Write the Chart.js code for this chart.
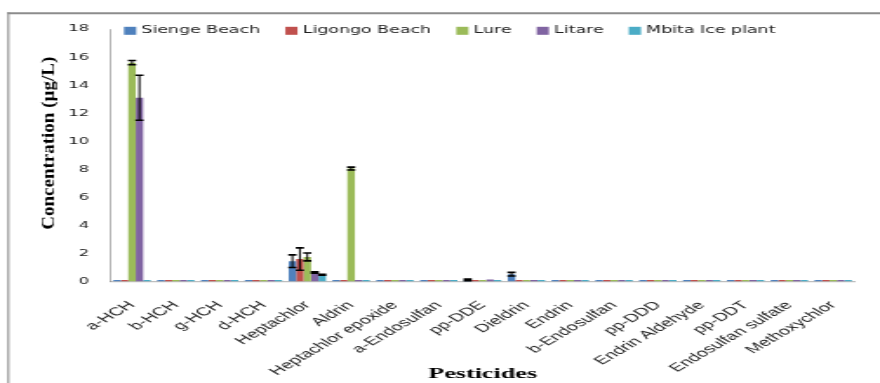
<!DOCTYPE html>
<html>
<head>
<meta charset="utf-8">
<script src="https://cdn.jsdelivr.net/npm/chart.js@4.4.1/dist/chart.umd.min.js"></script>
<style>
  html, body { margin: 0; padding: 0; background: #fff; overflow: hidden; }
  #pesticideChart { display: block; }
</style>
</head>
<body>
<!-- the chart is drawn narrow and shown wide -->
<canvas id="pesticideChart" width="506" height="383" style="width: 880px; height: 383px;"></canvas>
<script>
// Pesticide concentrations (µg/L) per landing site
const pesticides = ['a-HCH', 'b-HCH', 'g-HCH', 'd-HCH', 'Heptachlor', 'Aldrin', 'Heptachlor epoxide',
    'a-Endosulfan', 'pp-DDE', 'Dieldrin', 'Endrin', 'b-Endosulfan', 'pp-DDD', 'Endrin Aldehyde',
    'pp-DDT', 'Endosulfan sulfate', 'Methoxychlor'];
const sites = ['Sienge Beach', 'Ligongo Beach', 'Lure', 'Litare', 'Mbita Ice plant'];
const siteColors = ['#4f81bd', '#c0504d', '#9bbb59', '#8064a2', '#4bacc6'];

const siengeBeach   = [0, 0, 0, 0, 1.45, 0,    0, 0, 0.12, 0.52, 0, 0, 0, 0, 0, 0, 0];
const ligongoBeach  = [0, 0, 0, 0, 1.6,  0,    0, 0, 0,    0,    0, 0, 0, 0, 0, 0, 0];
const lure          = [15.6, 0, 0, 0, 1.75, 8.05, 0, 0, 0,  0,    0, 0, 0, 0, 0, 0, 0];
const litare        = [13.1, 0, 0, 0, 0.65, 0,  0, 0, 0.15, 0,    0, 0, 0, 0, 0, 0, 0];
const mbitaIcePlant = [0, 0, 0, 0, 0.48, 0,    0, 0, 0,    0,    0, 0, 0, 0, 0, 0, 0];

// standard errors
const siengeErr  = [0, 0, 0, 0, 0.45, 0,   0, 0, 0.06, 0.13, 0, 0, 0, 0, 0, 0, 0];
const ligongoErr = [0, 0, 0, 0, 0.8,  0,   0, 0, 0,    0,    0, 0, 0, 0, 0, 0, 0];
const lureErr    = [0.15, 0, 0, 0, 0.28, 0.1, 0, 0, 0,  0,    0, 0, 0, 0, 0, 0, 0];
const litareErr  = [1.6, 0, 0, 0, 0.05, 0,  0, 0, 0,    0,    0, 0, 0, 0, 0, 0, 0];
const mbitaErr   = [0, 0, 0, 0, 0.03, 0,   0, 0, 0,    0,    0, 0, 0, 0, 0, 0, 0];

const yMax = 18;
const yStep = 2;

const siteValues = [siengeBeach, ligongoBeach, lure, litare, mbitaIcePlant];
const siteErrors = [siengeErr, ligongoErr, lureErr, litareErr, mbitaErr];

const canvas = document.getElementById('pesticideChart');
const stretch = 880 / 506;

// outer frame, axis titles and the legend row
const frameAndTitles = {
    id: 'frameAndTitles',
    beforeDraw(chart) {
        const ctx = chart.ctx;
        ctx.save();
        ctx.strokeStyle = '#8c8c8c';
        ctx.lineWidth = 2;
        ctx.beginPath();
        ctx.moveTo(4.2, 13.3);
        ctx.lineTo(chart.width, 13.3);
        ctx.stroke();
        ctx.lineWidth = 1.1;
        ctx.beginPath();
        ctx.moveTo(4.8, 12.3);
        ctx.lineTo(4.8, chart.height);
        ctx.stroke();
        ctx.restore();
    },
    afterDraw(chart) {
        const ctx = chart.ctx;
        const area = chart.chartArea;
        ctx.save();
        ctx.fillStyle = '#000';
        ctx.textAlign = 'center';
        ctx.textBaseline = 'middle';

        // y title keeps its own proportions
        ctx.save();
        ctx.translate(28.3, (area.top + area.bottom) / 2 - 12);
        ctx.scale(1 / stretch, 1);
        ctx.rotate(-Math.PI / 2);
        ctx.font = 'bold 19px "Liberation Serif"';
        ctx.fillText('Concentration (µg/L)', 0, 0);
        ctx.restore();

        ctx.font = 'bold 15px "Liberation Serif"';
        ctx.fillText('Pesticides', (area.left + area.right) / 2, 374.5);

        // legend
        ctx.font = '10px "DejaVu Sans"';
        ctx.textAlign = 'left';
        let x = area.left + 8;
        const yMid = area.top + 1.8;
        sites.forEach((name, i) => {
            ctx.fillStyle = siteColors[i];
            ctx.fillRect(x, yMid - 4, 7, 8);
            ctx.fillStyle = '#222';
            ctx.fillText(name, x + 10, yMid);
            x += 10 + ctx.measureText(name).width + 14.5;
        });
        ctx.restore();
    }
};

// black error bars with caps
const errorBars = {
    id: 'errorBars',
    afterDatasetsDraw(chart) {
        const ctx = chart.ctx;
        const yScale = chart.scales.y;
        ctx.save();
        ctx.strokeStyle = '#000';
        chart.data.datasets.forEach((ds, i) => {
            const meta = chart.getDatasetMeta(i);
            meta.data.forEach((bar, j) => {
                const err = siteErrors[i][j];
                if (!err) return;
                const v = ds.data[j];
                const top = yScale.getPixelForValue(v + err);
                const bottom = yScale.getPixelForValue(v - err);
                const half = bar.width * 0.55;
                ctx.lineWidth = 1;
                ctx.beginPath();
                ctx.moveTo(bar.x, top);
                ctx.lineTo(bar.x, bottom);
                ctx.stroke();
                ctx.lineWidth = 1.6;
                ctx.beginPath();
                ctx.moveTo(bar.x - half, top);
                ctx.lineTo(bar.x + half, top);
                ctx.moveTo(bar.x - half, bottom);
                ctx.lineTo(bar.x + half, bottom);
                ctx.stroke();
            });
        });
        ctx.restore();
    }
};

new Chart(canvas.getContext('2d'), {
    type: 'bar',
    data: {
        labels: pesticides,
        datasets: sites.map((name, i) => ({
            label: name,
            data: siteValues[i],
            backgroundColor: siteColors[i],
            borderWidth: 0,
            categoryPercentage: 0.85,
            barPercentage: 1,
            minBarLength: 1.5
        }))
    },
    options: {
        responsive: false,
        animation: false,
        devicePixelRatio: 1,
        layout: { padding: { top: 29, right: 5.7, bottom: 0, left: 0 } },
        plugins: {
            legend: { display: false },
            tooltip: { enabled: false }
        },
        scales: {
            x: {
                grid: { display: false, drawTicks: false },
                border: { color: '#bfbfbf', width: 1.2 },
                ticks: {
                    color: '#222',
                    font: { family: 'Liberation Sans', size: 11.5 },
                    minRotation: 45,
                    maxRotation: 45,
                    autoSkip: false,
                    padding: 17
                },
                afterFit(scale) { scale.height = 101.5; }
            },
            y: {
                min: 0,
                max: yMax,
                grid: { display: false, drawTicks: false },
                border: { color: '#868686', width: 0.6 },
                ticks: {
                    stepSize: yStep,
                    color: '#222',
                    font: { family: 'DejaVu Sans', size: 9.5 },
                    padding: 12
                },
                afterFit(scale) { scale.width = 63.3; }
            }
        }
    },
    plugins: [frameAndTitles, errorBars]
});
</script>
</body>
</html>
